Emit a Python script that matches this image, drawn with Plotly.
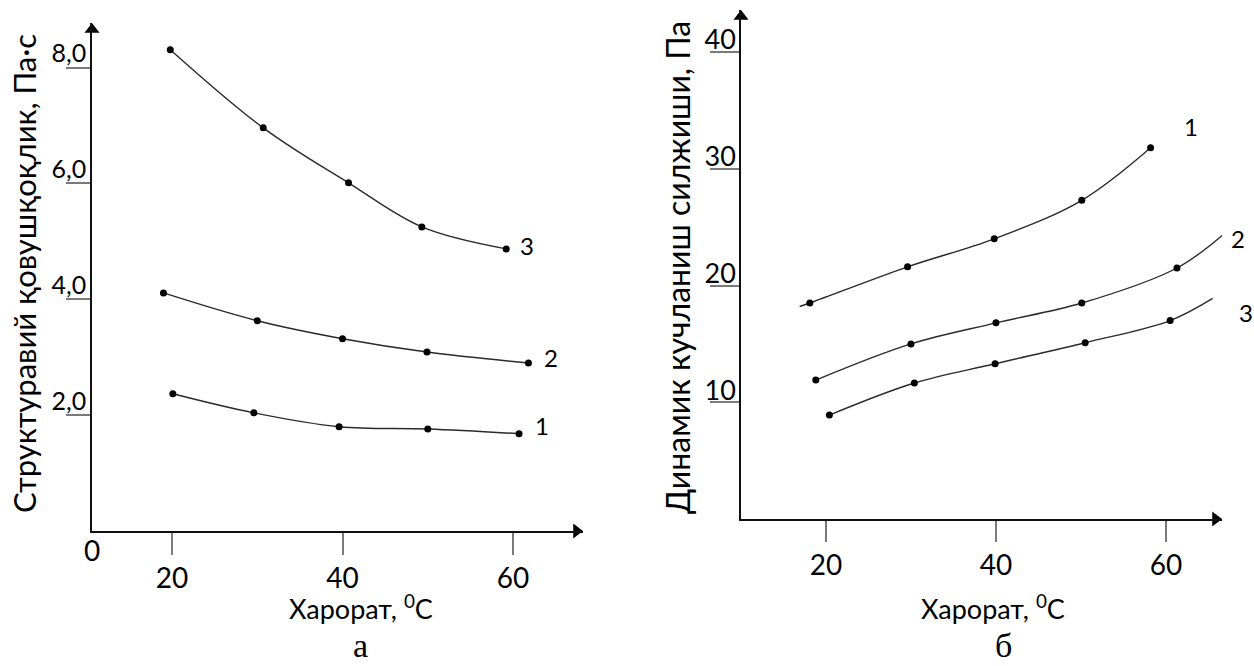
import plotly.graph_objects as go

W, H = 1254, 666

# ---- panel "а": structural viscosity (Па·с) vs temperature (°C)
temp_a1 = [20.1, 29.6, 39.6, 50.0, 60.7]
visc_1 = [2.37, 2.04, 1.80, 1.76, 1.68]
temp_a2 = [19.0, 30.0, 40.0, 49.9, 61.8]
visc_2 = [4.11, 3.63, 3.32, 3.09, 2.90]
temp_a3 = [19.8, 30.7, 40.7, 49.3, 59.2]
visc_3 = [8.31, 6.96, 6.01, 5.25, 4.87]

# ---- panel "б": dynamic shear stress (Па) vs temperature (°C)
temp_b1 = [18.1, 29.6, 39.8, 50.1, 58.2]
shear_1 = [18.5, 21.6, 24.0, 27.3, 31.8]
temp_b2 = [18.8, 30.0, 40.0, 50.1, 61.3]
shear_2 = [11.9, 15.0, 16.8, 18.5, 21.5]
temp_b3 = [20.4, 30.4, 39.9, 50.5, 60.5]
shear_3 = [8.9, 11.65, 13.3, 15.1, 17.0]

# smooth continuation of curves past the measured points
b1_lead_x, b1_lead_y = [16.9], [18.2]
b2_tail_x, b2_tail_y = [66.8], [24.4]
b3_tail_x, b3_tail_y = [65.5], [18.9]

x_tickvals = [20, 40, 60]
x_ticktext = ["20", "40", "60"]
ya_tickvals = [2, 4, 6, 8]
ya_ticktext = ["2,0", "4,0", "6,0", "8,0"]
yb_tickvals = [10, 20, 30, 40]
yb_ticktext = ["10", "20", "30", "40"]

# axis ranges
xa_range = [10.62, 68.2]
ya_range = [0, 8.77]
xb_range = [10.0, 66.6]
yb_range = [0, 43.6]

LINE = dict(color="#2a2a2a", width=1.4, shape="spline", smoothing=1.0)
MARK = dict(color="black", size=7)
FONT = "Lato"


def px(x):
    return x / W


def py(y):
    return 1 - y / H


# plot-area boxes in pixels: (left, right, bottom, top)
box_a = (92, 583, 531, 23)
box_b = (741, 1222, 519, 10)

fig = go.Figure()


def add_curve(xs, ys, xref, yref, lead=None, tail=None):
    lx, ly = list(xs), list(ys)
    if lead:
        lx, ly = lead[0] + lx, lead[1] + ly
    if tail:
        lx, ly = lx + tail[0], ly + tail[1]
    fig.add_trace(go.Scatter(x=lx, y=ly, mode="lines", line=LINE,
                             xaxis=xref, yaxis=yref, hoverinfo="skip",
                             showlegend=False))
    fig.add_trace(go.Scatter(x=xs, y=ys, mode="markers", marker=MARK,
                             xaxis=xref, yaxis=yref, showlegend=False,
                             cliponaxis=False))


add_curve(temp_a1, visc_1, "x", "y")
add_curve(temp_a2, visc_2, "x", "y")
add_curve(temp_a3, visc_3, "x", "y")
add_curve(temp_b1, shear_1, "x2", "y2", lead=(b1_lead_x, b1_lead_y))
add_curve(temp_b2, shear_2, "x2", "y2", tail=(b2_tail_x, b2_tail_y))
add_curve(temp_b3, shear_3, "x2", "y2", tail=(b3_tail_x, b3_tail_y))


def axis_arrows(box, xr, yr, xref, yref, size=13):
    """Arrowheads at the far ends of both axes."""
    ppx = (box[1] - box[0]) / (xr[1] - xr[0])
    ppy = (box[2] - box[3]) / (yr[1] - yr[0])
    back = size / 2
    fig.add_trace(go.Scatter(
        x=[xr[1] - back / ppx], y=[yr[0]], mode="markers",
        marker=dict(symbol="triangle-right", size=size, color="black"),
        xaxis=xref, yaxis=yref, cliponaxis=False, hoverinfo="skip",
        showlegend=False))
    fig.add_trace(go.Scatter(
        x=[xr[0]], y=[yr[1] - back / ppy], mode="markers",
        marker=dict(symbol="triangle-up", size=size, color="black"),
        xaxis=xref, yaxis=yref, cliponaxis=False, hoverinfo="skip",
        showlegend=False))


axis_arrows(box_a, xa_range, ya_range, "x", "y")
axis_arrows(box_b, xb_range, yb_range, "x2", "y2")


def x_axis(box, rng, anchor, ticklen):
    return dict(domain=[px(box[0]), px(box[1])], range=rng, anchor=anchor,
                tickvals=x_tickvals, ticktext=x_ticktext,
                ticks="outside", ticklen=ticklen, tickwidth=1.8,
                tickcolor="#7a7a7a", showline=True, linecolor="#111",
                linewidth=1.6, showgrid=False, zeroline=False,
                tickfont=dict(family=FONT, size=28, color="black"))


def y_axis(box, rng, anchor, vals, text, ticklen, size, shift, standoff):
    return dict(domain=[py(box[2]), py(box[3])], range=rng, anchor=anchor,
                tickvals=vals, ticktext=text,
                ticks="outside", ticklen=ticklen, tickwidth=1.8,
                tickcolor="#7a7a7a", showline=True, linecolor="#111",
                linewidth=1.6, showgrid=False, zeroline=False,
                ticklabelshift=shift, ticklabelstandoff=standoff,
                tickfont=dict(family=FONT, size=size, color="black"))


ann = []


def text(x, y, s, size, family=FONT, angle=0, yanchor="middle"):
    ann.append(dict(x=px(x), y=py(y), xref="paper", yref="paper", text=s,
                    showarrow=False, textangle=angle, xanchor="center",
                    yanchor=yanchor,
                    font=dict(family=family, size=size, color="black")))


# origin label of panel а
text(92, 550, "0", 28)

# curve numbers
text(527, 245, "3", 24)
text(551, 357, "2", 24)
text(542, 425, "1", 24)
text(1191, 127, "1", 24)
text(1238, 239, "2", 24)
text(1246, 312, "3", 24)

# axis titles
text(361, 607, "Харорат, <sup>0</sup>C", 27)
text(993, 607, "Харорат, <sup>0</sup>C", 27)
text(24, 274, "Структуравий қовушқоқлик, Па·с", 31, angle=-90)
text(677, 268, "Динамик кучланиш силжиши, Па", 32, angle=-90)

# panel letters
text(360, 666, "а", 34, family="Liberation Serif", yanchor="bottom")
text(1003, 666, "б", 34, family="Liberation Serif", yanchor="bottom")

fig.update_layout(
    width=W, height=H,
    margin=dict(l=0, r=0, t=0, b=0),
    paper_bgcolor="white", plot_bgcolor="white",
    showlegend=False,
    xaxis=x_axis(box_a, xa_range, "y", 22),
    yaxis=y_axis(box_a, ya_range, "x", ya_tickvals, ya_ticktext,
                 24, 25, -14, -25),
    xaxis2=x_axis(box_b, xb_range, "y2", 21),
    yaxis2=y_axis(box_b, yb_range, "x2", yb_tickvals,
                  yb_ticktext, 29, 27, -12, -31),
    annotations=ann,
)

fig.write_html("out.html")
